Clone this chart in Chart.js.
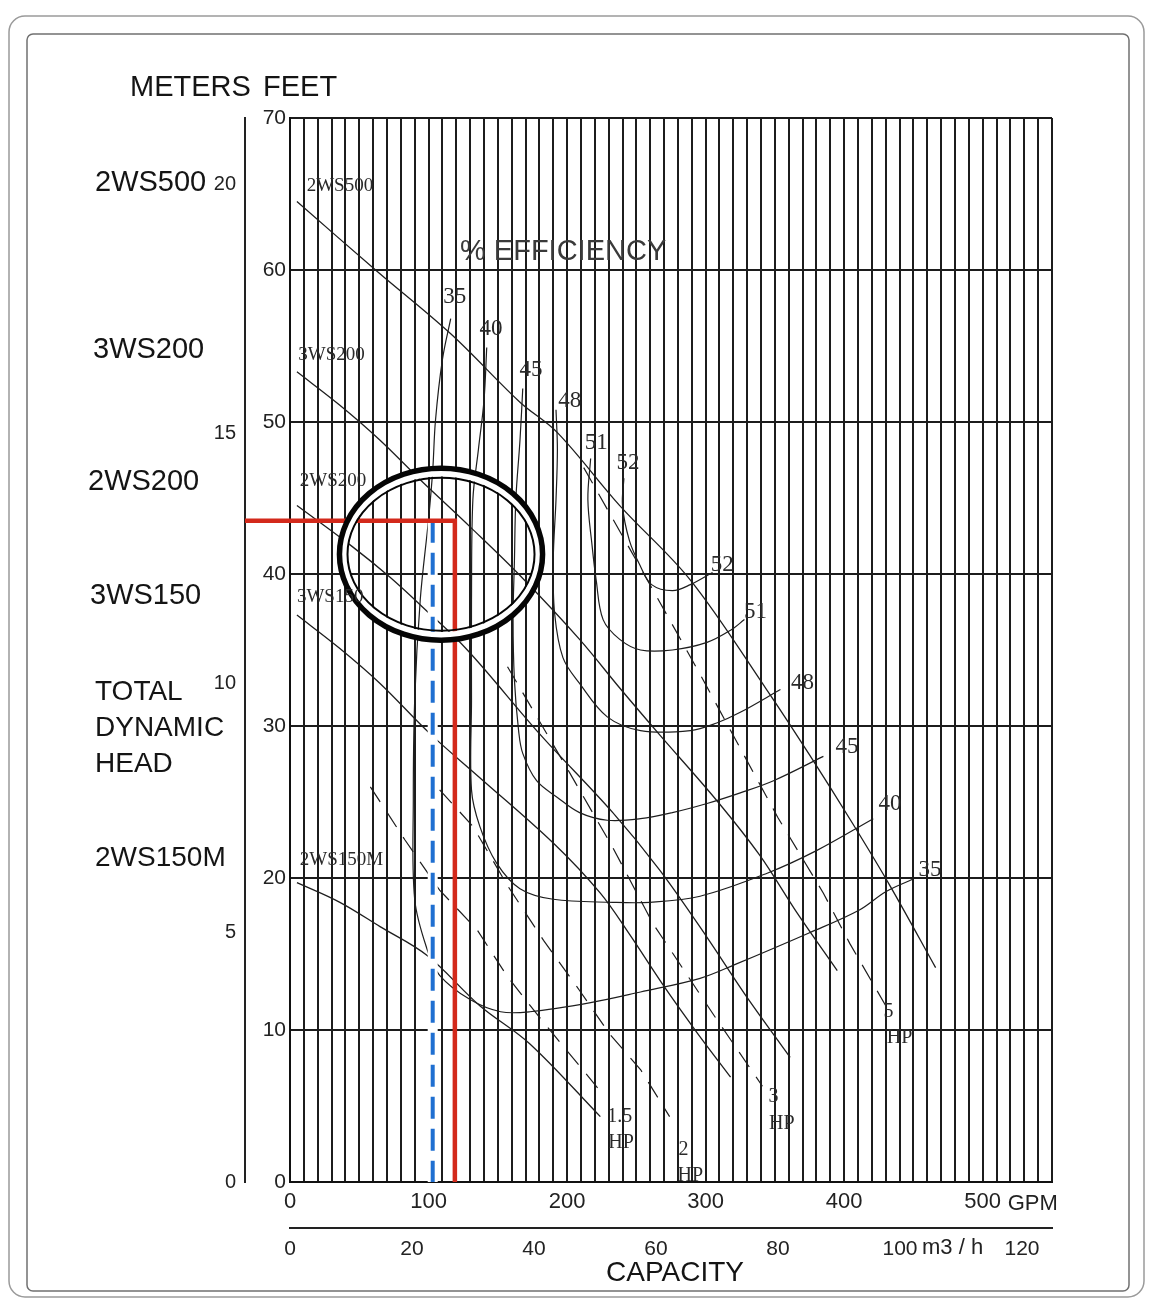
<!DOCTYPE html>
<html>
<head>
<meta charset="utf-8">
<script src="https://cdn.jsdelivr.net/npm/chart.js@4.4.1/dist/chart.umd.min.js"></script>
<style>
html,body{margin:0;padding:0;background:#fff;}
canvas{display:block;}
</style>
</head>
<body>
<canvas id="c" width="1155" height="1303"></canvas>
<script>
// ---------- tick labels ----------
const feetTicks = [0, 10, 20, 30, 40, 50, 60, 70];
const meterTicks = [0, 5, 10, 15, 20];
const gpmLabelTicks = [0, 100, 200, 300, 400, 500];
const m3hTicks = [0, 20, 40, 60, 80, 100, 120];
const FT_PER_M = 3.28084;
const GPM_PER_M3H = 4.40287;

// ---------- pump head curves (GPM, feet) ----------
const pump2WS500Gpm = [5, 63, 116, 166, 193, 238, 289, 344, 375, 406, 433, 466];
const pump2WS500Ft  = [64.5, 59.9, 55.8, 51.3, 49.3, 44.5, 39.6, 32.4, 28.1, 23.6, 19.5, 14.1];
const pump3WS200Gpm = [5, 36, 65, 94, 130, 166, 209, 238, 267, 308, 339, 366, 395];
const pump3WS200Ft  = [53.3, 51.1, 48.8, 46.2, 43.1, 39.9, 35.7, 32.5, 29.4, 25.1, 21.5, 17.7, 13.9];
const pump2WS200Gpm = [5, 45, 72, 96, 128, 180, 233, 267, 301, 328, 361];
const pump2WS200Ft  = [44.5, 41.8, 39.8, 37.8, 35.0, 29.5, 24.3, 20.5, 16.1, 12.4, 8.2];
const pump3WS150Gpm = [5, 36, 65, 101, 137, 190, 224, 245, 269, 294, 318];
const pump3WS150Ft  = [37.3, 35.1, 32.8, 29.5, 26.6, 22.3, 19.0, 16.3, 13.0, 9.8, 6.9];
const pump2WS150MGpm = [5, 36, 65, 99, 137, 173, 224];
const pump2WS150MFt  = [19.7, 18.4, 16.8, 14.9, 11.6, 9.1, 4.3];
const pumpNames = ['2WS500', '3WS200', '2WS200', '3WS150', '2WS150M'];
const pumpLabelGpm = [12, 6, 7, 5, 7];
const pumpLabelFt = [65.5, 54.4, 46.1, 38.5, 21.2];

// ---------- efficiency curves (% efficiency) ----------
const eff35Gpm = [116, 110, 105, 103, 100, 94, 90, 89, 90, 99, 108, 130, 152, 173, 217, 253, 296, 321, 375, 411, 430, 449];
const eff35Ft  = [56.8, 54.1, 50.1, 46.8, 43.6, 38.3, 31.7, 25.1, 18.6, 15.3, 13.6, 12.0, 11.2, 11.2, 11.8, 12.5, 13.4, 14.3, 16.4, 17.9, 19.1, 19.9];
const eff40Gpm = [142, 140, 136, 132, 131, 131, 131, 137, 149, 166, 190, 233, 260, 296, 344, 380, 421];
const eff40Ft  = [54.9, 51.4, 48.2, 44.9, 38.3, 31.7, 25.8, 23.4, 21.0, 19.3, 18.6, 18.4, 18.4, 18.8, 20.3, 21.8, 23.9];
const eff45Gpm = [168, 166, 163, 162, 161, 162, 165, 168, 178, 193, 209, 229, 253, 276, 301, 325, 349, 385];
const eff45Ft  = [52.2, 48.8, 44.9, 40.9, 37.0, 33.0, 29.7, 28.2, 26.4, 25.3, 24.3, 23.8, 23.9, 24.3, 24.9, 25.6, 26.4, 28.0];
const eff48Gpm = [192, 193, 192, 190, 191, 197, 209, 229, 253, 289, 308, 325, 354];
const eff48Ft  = [50.8, 48.2, 44.9, 40.9, 37.4, 34.5, 32.8, 30.6, 29.7, 29.7, 30.2, 30.9, 32.4];
const eff51Gpm = [217, 215, 218, 221, 226, 238, 253, 276, 301, 318, 328];
const eff51Ft  = [47.6, 44.9, 41.9, 39.6, 37.0, 35.7, 35.0, 35.0, 35.5, 36.3, 37.0];
const eff52Gpm = [241, 240, 245, 253, 261, 276, 289, 305];
const eff52Ft  = [46.3, 44.5, 42.2, 40.5, 39.3, 38.9, 39.3, 40.1];
const effLabelText = ['35', '40', '45', '48', '51', '52', '52', '51', '48', '45', '40', '35'];
const effLabelGpm  = [119, 145, 174, 202, 221, 244, 312, 336, 370, 402, 433, 462];
const effLabelFt   = [58.2, 56.1, 53.4, 51.4, 48.6, 47.3, 40.6, 37.5, 32.8, 28.6, 24.9, 20.5];

// ---------- horsepower lines ----------
const hp15Gpm = [58, 83, 108, 135, 157, 183, 222];
const hp15Ft  = [26.0, 22.5, 19.2, 16.6, 13.5, 10.5, 6.2];
const hp2Gpm  = [108, 132, 157, 183, 209, 231, 253, 274];
const hp2Ft   = [25.8, 23.4, 19.5, 15.9, 12.6, 9.7, 7.4, 4.3];
const hp3Gpm  = [157, 202, 233, 262, 305, 341];
const hp3Ft   = [33.9, 26.9, 22.0, 17.0, 11.1, 6.3];
const hp5Gpm  = [212, 258, 296, 352, 385, 404, 430];
const hp5Ft   = [47.0, 39.6, 33.4, 24.0, 19.0, 15.7, 11.6];
const hpLabelText = ['1.5', 'HP', '2', 'HP', '3', 'HP', '5', 'HP'];
const hpLabelGpm  = [238, 239, 284, 289, 349, 355, 432, 440];
const hpLabelFt   = [4.3, 2.6, 2.1, 0.4, 5.6, 3.8, 11.2, 9.5];

// ---------- duty point markings ----------
const dutyLineGpm = [-32.5, 119, 119];
const dutyLineFt  = [43.5, 43.5, 0];
const altLineGpm  = [103, 103];
const altLineFt   = [43.5, 0];
const circleCenterGpm = 109;
const circleCenterFt = 41.3;
const circleRadiusGpm = [73.3, 67.5];
const circleRadiusFt = [5.66, 5.03];

// ---------- build ----------
const SANS = '"Liberation Sans", Arial, sans-serif';
const SERIF = '"Liberation Serif", "Times New Roman", serif';
function pts(g, f) { return g.map((v, i) => ({ x: v, y: f[i] })); }
function curve(g, f, extra) {
  return Object.assign({
    data: pts(g, f), showLine: true, pointRadius: 0, pointHoverRadius: 0,
    borderColor: '#1e1e1e', borderWidth: 1.3, tension: 0.35, fill: false, order: 10
  }, extra || {});
}

const datasets = [
  curve(dutyLineGpm, dutyLineFt, { borderColor: '#d3291b', borderWidth: 4.5, tension: 0, clip: false, order: 0, borderJoinStyle: 'miter' }),
  curve(altLineGpm, altLineFt, { borderColor: '#1f6fd1', borderWidth: 4, tension: 0, borderDash: [22, 10], order: 1 }),
  curve(altLineGpm, altLineFt, { borderColor: '#ffffff', borderWidth: 10, tension: 0, order: 2 }),
  curve(pump2WS500Gpm, pump2WS500Ft),
  curve(pump3WS200Gpm, pump3WS200Ft),
  curve(pump2WS200Gpm, pump2WS200Ft),
  curve(pump3WS150Gpm, pump3WS150Ft),
  curve(pump2WS150MGpm, pump2WS150MFt),
  curve(eff35Gpm, eff35Ft, { borderWidth: 1.2 }),
  curve(eff40Gpm, eff40Ft, { borderWidth: 1.2 }),
  curve(eff45Gpm, eff45Ft, { borderWidth: 1.2 }),
  curve(eff48Gpm, eff48Ft, { borderWidth: 1.2 }),
  curve(eff51Gpm, eff51Ft, { borderWidth: 1.2 }),
  curve(eff52Gpm, eff52Ft, { borderWidth: 1.2 }),
  curve(hp15Gpm, hp15Ft, { tension: 0, borderDash: [18, 12], borderWidth: 1.2 }),
  curve(hp2Gpm, hp2Ft, { tension: 0, borderDash: [18, 12], borderWidth: 1.2 }),
  curve(hp3Gpm, hp3Ft, { tension: 0, borderDash: [18, 12], borderWidth: 1.2 }),
  curve(hp5Gpm, hp5Ft, { tension: 0, borderDash: [18, 12], borderWidth: 1.2 })
];

const annot = {
  id: 'annot',
  beforeDraw(chart) {
    const ctx = chart.ctx;
    ctx.save();
    ctx.fillStyle = '#ffffff';
    ctx.fillRect(0, 0, chart.width, chart.height);
    ctx.strokeStyle = '#9a9a9a';
    ctx.lineWidth = 1.5;
    ctx.beginPath();
    ctx.roundRect(9, 16, 1135, 1281, 16);
    ctx.stroke();
    ctx.strokeStyle = '#707070';
    ctx.beginPath();
    ctx.roundRect(27, 34, 1102, 1257, 6);
    ctx.stroke();
    ctx.restore();
  },
  afterDatasetsDraw(chart) {
    const ctx = chart.ctx;
    const xs = chart.scales.x, ys = chart.scales.y;
    const cx = xs.getPixelForValue(circleCenterGpm);
    const cy = ys.getPixelForValue(circleCenterFt);
    const rx0 = xs.getPixelForValue(circleCenterGpm + circleRadiusGpm[0]) - cx;
    const ry0 = cy - ys.getPixelForValue(circleCenterFt + circleRadiusFt[0]);
    const rx1 = xs.getPixelForValue(circleCenterGpm + circleRadiusGpm[1]) - cx;
    const ry1 = cy - ys.getPixelForValue(circleCenterFt + circleRadiusFt[1]);
    ctx.save();
    ctx.strokeStyle = '#ffffff';
    ctx.lineWidth = 7;
    ctx.beginPath();
    ctx.ellipse(cx, cy, (rx0 + rx1) / 2, (ry0 + ry1) / 2, 0, 0, Math.PI * 2);
    ctx.stroke();
    ctx.strokeStyle = '#050505';
    ctx.lineWidth = 5.5;
    ctx.beginPath();
    ctx.ellipse(cx, cy, rx0, ry0, 0, 0, Math.PI * 2);
    ctx.stroke();
    ctx.lineWidth = 2;
    ctx.beginPath();
    ctx.ellipse(cx, cy, rx1, ry1, 0, 0, Math.PI * 2);
    ctx.stroke();
    ctx.restore();
  },
  afterDraw(chart) {
    const ctx = chart.ctx;
    const xs = chart.scales.x, ys = chart.scales.y, x2 = chart.scales.x2;
    ctx.save();
    ctx.textBaseline = 'middle';
    // in-plot pump labels
    ctx.fillStyle = '#2a2a2a';
    ctx.textAlign = 'left';
    ctx.font = '19px ' + SERIF;
    pumpNames.forEach((t, i) => ctx.fillText(t, xs.getPixelForValue(pumpLabelGpm[i]), ys.getPixelForValue(pumpLabelFt[i])));
    // efficiency labels
    ctx.textAlign = 'center';
    ctx.font = '23px ' + SERIF;
    effLabelText.forEach((t, i) => ctx.fillText(t, xs.getPixelForValue(effLabelGpm[i]), ys.getPixelForValue(effLabelFt[i])));
    // hp labels
    ctx.font = '20px ' + SERIF;
    hpLabelText.forEach((t, i) => ctx.fillText(t, xs.getPixelForValue(hpLabelGpm[i]), ys.getPixelForValue(hpLabelFt[i])));
    // % EFFICIENCY
    ctx.textAlign = 'left';
    ctx.fillStyle = '#3a3a3a';
    ctx.font = '29px ' + SANS;
    ctx.fillText('% EFFICIENCY', 460, 252);
    // left titles
    ctx.fillStyle = '#141414';
    ctx.font = '29px ' + SANS;
    ctx.fillText('METERS', 130, 88);
    ctx.fillText('FEET', 263, 88);
    ctx.fillText('2WS500', 95, 183);
    ctx.fillText('3WS200', 93, 350);
    ctx.fillText('2WS200', 88, 482);
    ctx.fillText('3WS150', 90, 596);
    ctx.font = '28px ' + SANS;
    ctx.fillText('TOTAL', 95, 692);
    ctx.fillText('DYNAMIC', 95, 728);
    ctx.fillText('HEAD', 95, 764);
    ctx.fillText('2WS150M', 95, 858);
    // capacity titles
    ctx.textAlign = 'center';
    ctx.fillText('CAPACITY', 675, 1273);
    ctx.textAlign = 'left';
    ctx.font = '22px ' + SANS;
    ctx.fillStyle = '#222';
    ctx.fillText('GPM', xs.getPixelForValue(500) + 25, 1204);
    ctx.fillText('m3 / h', x2.getPixelForValue(100) + 22, 1248);
    ctx.restore();
  }
};

new Chart(document.getElementById('c'), {
  type: 'scatter',
  data: { datasets },
  options: {
    responsive: false,
    devicePixelRatio: 1,
    animation: false,
    events: [],
    layout: { padding: { left: 165, top: 118, right: 103, bottom: 15 } },
    plugins: { legend: { display: false }, tooltip: { enabled: false } },
    scales: {
      x: {
        type: 'linear', position: 'bottom', min: 0, max: 550, weight: 0,
        afterFit(s) { s.height = 46; },
        grid: { color: '#1c1c1c', lineWidth: 2, drawTicks: false },
        border: { display: true, color: '#111', width: 2 },
        ticks: {
          stepSize: 10, autoSkip: false, maxRotation: 0, minRotation: 0, padding: 7,
          color: '#222', font: { family: SANS, size: 22 },
          callback: v => gpmLabelTicks.includes(v) ? String(v) : ''
        }
      },
      x2: {
        type: 'linear', position: 'bottom', min: 0, max: 550 / GPM_PER_M3H, weight: 1,
        afterFit(s) { s.height = 60; },
        afterBuildTicks(s) { s.ticks = m3hTicks.map(v => ({ value: v })); },
        grid: { display: false, drawTicks: false },
        border: { display: true, color: '#222', width: 2 },
        ticks: { autoSkip: false, maxRotation: 0, minRotation: 0, padding: 9, color: '#222', font: { family: SANS, size: 21 } }
      },
      y: {
        type: 'linear', position: 'left', min: 0, max: 70, weight: 0,
        afterFit(s) { s.width = 45; },
        afterBuildTicks(s) { s.ticks = feetTicks.map(v => ({ value: v })); },
        grid: { color: '#1c1c1c', lineWidth: 2, drawTicks: false },
        border: { display: true, color: '#111', width: 2 },
        ticks: { padding: 4, color: '#222', font: { family: SANS, size: 21 } }
      },
      ym: {
        type: 'linear', position: 'left', min: 0, max: 70 / FT_PER_M, weight: 1,
        afterFit(s) { s.width = 80; },
        afterBuildTicks(s) { s.ticks = meterTicks.map(v => ({ value: v })); },
        grid: { display: false, drawTicks: false },
        border: { display: true, color: '#222', width: 2 },
        ticks: { padding: 9, color: '#222', font: { family: SANS, size: 20 } }
      }
    }
  },
  plugins: [annot]
});
</script>
</body>
</html>
